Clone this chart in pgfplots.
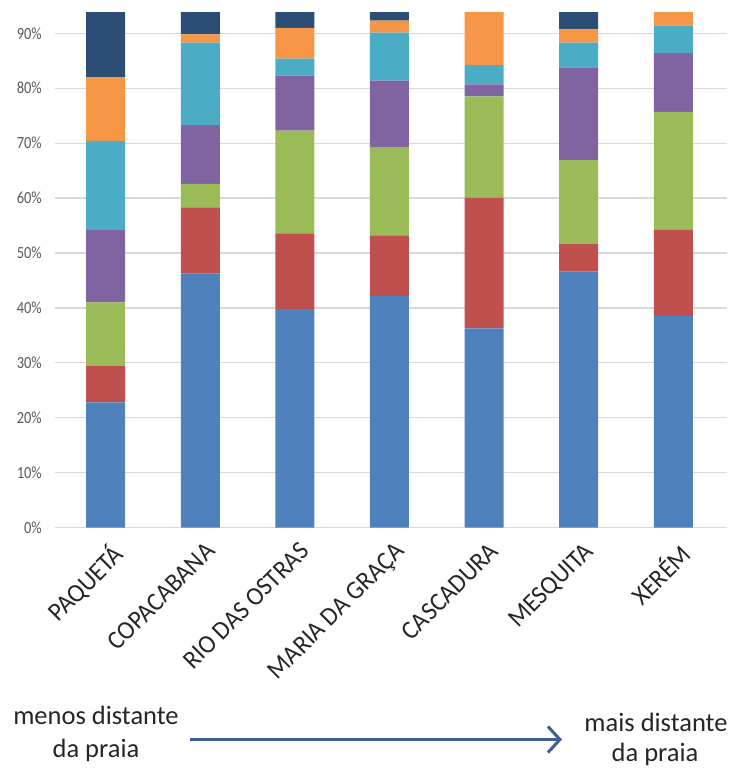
\documentclass[border=0pt]{standalone}
\usepackage{fontspec}
\setmainfont{Carlito}
\newfontfamily\tickfont[FakeStretch=0.85]{Carlito}
\newfontfamily\labelfont[FakeStretch=0.95]{Carlito}
\usepackage{pgfplots}
\pgfplotsset{compat=1.18}
\usepackage{pgfplotstable}
\usetikzlibrary{arrows.meta}
\definecolor{cBlue}{HTML}{4F81BD}
\definecolor{cRed}{HTML}{C0504D}
\definecolor{cGreen}{HTML}{9BBB59}
\definecolor{cPurple}{HTML}{8064A2}
\definecolor{cTeal}{HTML}{4BACC6}
\definecolor{cOrange}{HTML}{F79646}
\definecolor{cNavy}{HTML}{2C4D75}
\definecolor{gridgray}{HTML}{D9D9D9}
\definecolor{tickgray}{HTML}{595959}
\definecolor{labelgray}{HTML}{262626}
\definecolor{arrowblue}{HTML}{3D5F94}

\pgfplotstableread{
x blue red green purple teal orange navy
0 22.8 6.6 11.6 13.2 16.2 11.6 18.0
1 46.3 12.0 4.3 10.7 15.0 1.5 10.2
2 39.8 13.8 18.7 10.0 3.1 5.6 9.0
3 42.2 11.0 16.0 12.2 8.7 2.2 7.7
4 36.3 23.8 18.4 2.2 3.5 15.8 0
5 46.6 5.0 15.3 16.9 4.5 2.4 9.3
6 38.5 15.7 21.5 10.7 5.0 8.6 0
}\datatable

\begin{document}
\begin{tikzpicture}
\path[use as bounding box] (0,0) rectangle (732pt,769pt);
\begin{axis}[
  at={(55pt,241.3pt)}, anchor=south west,
  scale only axis, width=672pt, height=515pt,
  ybar stacked, bar width=39pt,
  xmin=-0.536, xmax=6.568, ymin=0, ymax=93.75,
  xtick={0,...,6},
  xticklabels={PAQUETÁ,COPACABANA,RIO DAS OSTRAS,MARIA DA GRAÇA,CASCADURA,MESQUITA,XERÉM},
  ytick={0,10,...,90},
  yticklabel={\pgfmathprintnumber{\tick}\%},
  /pgf/number format/assume math mode=true,
  ymajorgrids,
  major grid style={draw=gridgray, line width=1.2pt},
  axis line style={draw=none},
  major tick length=0pt,
  tick style={draw=none},
  yticklabel style={font=\tickfont\fontsize{17}{20}\selectfont, text=tickgray, anchor=east, inner sep=0pt, xshift=-13pt},
  xticklabel style={font=\labelfont\fontsize{26}{30}\selectfont, text=labelgray, xshift=4pt, yshift=-13pt, rotate=45, anchor=north east, inner sep=0pt},
]
\addplot[fill=cBlue, draw=none] table[x=x,y=blue]{\datatable};
\addplot[fill=cRed, draw=none] table[x=x,y=red]{\datatable};
\addplot[fill=cGreen, draw=none] table[x=x,y=green]{\datatable};
\addplot[fill=cPurple, draw=none] table[x=x,y=purple]{\datatable};
\addplot[fill=cTeal, draw=none] table[x=x,y=teal]{\datatable};
\addplot[fill=cOrange, draw=none] table[x=x,y=orange]{\datatable};
\addplot[fill=cNavy, draw=none] table[x=x,y=navy]{\datatable};
\end{axis}
\begin{scope}[every node/.style={anchor=base, font=\fontsize{26.5}{30}\selectfont, text=labelgray}]
\node at (96pt,44pt) {menos distante};
\node at (96pt,12pt) {da praia};
\node at (656pt,37pt) {mais distante};
\node at (655pt,8pt) {da praia};
\end{scope}
\draw[arrowblue, line width=3pt, -{Straight Barb[length=12pt,width=26pt]}] (190pt,29.5pt) -- (562pt,29.5pt);
\end{tikzpicture}
\end{document}
